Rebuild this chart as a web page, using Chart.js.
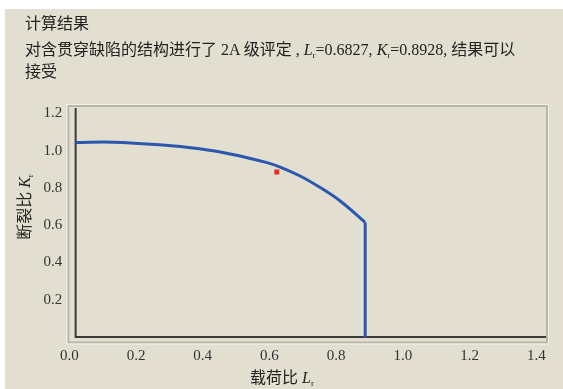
<!DOCTYPE html>
<html>
<head>
<meta charset="utf-8">
<script src="https://cdn.jsdelivr.net/npm/chart.js@4/dist/chart.umd.min.js"></script>
<style>
  body { margin: 0; background: #fff; width: 563px; height: 389px; overflow: hidden; position: relative; }
  #panel { position: absolute; left: 5px; top: 9px; width: 558px; height: 380px; background: #e2dfd0; }
  .txt { position: absolute; font-family: "Liberation Serif", "Noto Sans CJK SC", serif; font-size: 16px; color: #222; white-space: nowrap; line-height: 18px; }
  .txt sub { font-size: 9px; vertical-align: -3px; line-height: 0; }
  #chart { position: absolute; left: 0; top: 0; }
  #ytitle { transform: rotate(-90deg); transform-origin: center center; }
</style>
</head>
<body>
<div id="panel"></div>
<canvas id="chart" width="563" height="389"></canvas>
<div class="txt" style="left:25px;top:15px">计算结果</div>
<div class="txt" style="left:25px;top:41px">对含贯穿缺陷的结构进行了 2A 级评定 , <i>L</i><sub>r</sub>=0.6827, <i>K</i><sub>r</sub>=0.8928, 结果可以</div>
<div class="txt" style="left:25px;top:63px">接受</div>
<div class="txt" style="left:250px;top:369px">载荷比 <i>L</i><sub>r</sub></div>
<div class="txt" id="ytitle" style="left:-15px;top:198px;width:80px;text-align:center">断裂比 <i>K</i><sub>r</sub></div>
<script>
// failure assessment curve (Lr, Kr)
const curveLr = [0.019, 0.13, 0.27, 0.39, 0.49, 0.59, 0.632, 0.692, 0.752, 0.812, 0.887];
const curveKr = [1.044, 1.046, 1.032, 1.010, 0.980, 0.937, 0.912, 0.864, 0.802, 0.730, 0.615];

// Lr cut-off line
const cutoffLr = [0.887, 0.887];
const cutoffKr = [0.615, 0.0];

// assessment point
const pointLr = [0.622];
const pointKr = [0.886];

const xTicks = [0.0, 0.2, 0.4, 0.6, 0.8, 1.0, 1.2, 1.4];
const yTicks = [0.2, 0.4, 0.6, 0.8, 1.0, 1.2];
const axisOriginLr = 0.019;

const tickFont = { family: 'Liberation Serif', size: 15 };
const blue = '#2b57ae';

const framePlugin = {
    id: 'frame',
    beforeDatasetsDraw(chart) {
        const { ctx, chartArea: a, scales: { x, y } } = chart;
        ctx.save();
        // light outer box
        ctx.strokeStyle = '#b9b6a9';
        ctx.lineWidth = 2;
        ctx.strokeRect(a.left - 1, a.top, a.right - a.left, a.bottom - a.top);
        ctx.strokeStyle = '#f3f1e8';
        ctx.lineWidth = 1;
        ctx.strokeRect(a.left - 2.5, a.top - 1.5, a.right - a.left + 3, a.bottom - a.top + 3);
        // dark axes
        const x0 = x.getPixelForValue(axisOriginLr);
        const y0 = y.getPixelForValue(0);
        ctx.strokeStyle = '#3a3a3a';
        ctx.lineWidth = 2;
        ctx.beginPath();
        ctx.moveTo(x0, a.top + 2);
        ctx.lineTo(x0, y0);
        ctx.lineTo(a.right - 2, y0);
        ctx.stroke();
        ctx.restore();
    }
};

const toPoints = (xs, ys) => xs.map((v, i) => ({ x: v, y: ys[i] }));

const ctx = document.getElementById('chart').getContext('2d');
new Chart(ctx, {
    type: 'scatter',
    data: {
        datasets: [{
            label: 'FAC',
            data: toPoints(curveLr, curveKr),
            showLine: true,
            borderColor: blue,
            borderWidth: 3,
            pointRadius: 0,
            tension: 0.4,
            order: 2
        }, {
            label: 'cutoff',
            data: toPoints(cutoffLr, cutoffKr),
            showLine: true,
            borderColor: blue,
            borderWidth: 3,
            pointRadius: 0,
            order: 2
        }, {
            label: 'point',
            data: toPoints(pointLr, pointKr),
            pointStyle: 'rect',
            pointRadius: 3.5,
            backgroundColor: '#f02a2a',
            borderWidth: 0,
            order: 1
        }]
    },
    options: {
        responsive: false,
        animation: false,
        devicePixelRatio: 1,
        layout: { padding: { top: 106, right: 15, left: 0, bottom: 0 } },
        plugins: { legend: { display: false }, tooltip: { enabled: false } },
        scales: {
            x: {
                type: 'linear',
                min: 0,
                max: 1.435,
                afterBuildTicks: s => { s.ticks = xTicks.map(v => ({ value: v })); },
                afterFit: s => { s.height = 46.5; },
                grid: { display: false, drawTicks: false },
                border: { display: false },
                ticks: { font: tickFont, color: '#333', padding: 5, maxRotation: 0, autoSkip: false,
                         callback: v => v.toFixed(1) }
            },
            y: {
                type: 'linear',
                min: -0.03,
                max: 1.24,
                afterBuildTicks: s => { s.ticks = yTicks.map(v => ({ value: v })); },
                afterFit: s => { s.width = 69.3; },
                grid: { display: false, drawTicks: false },
                border: { display: false },
                ticks: { font: tickFont, color: '#333', padding: 7, autoSkip: false,
                         callback: v => v.toFixed(1) }
            }
        }
    },
    plugins: [framePlugin]
});
</script>
</body>
</html>
